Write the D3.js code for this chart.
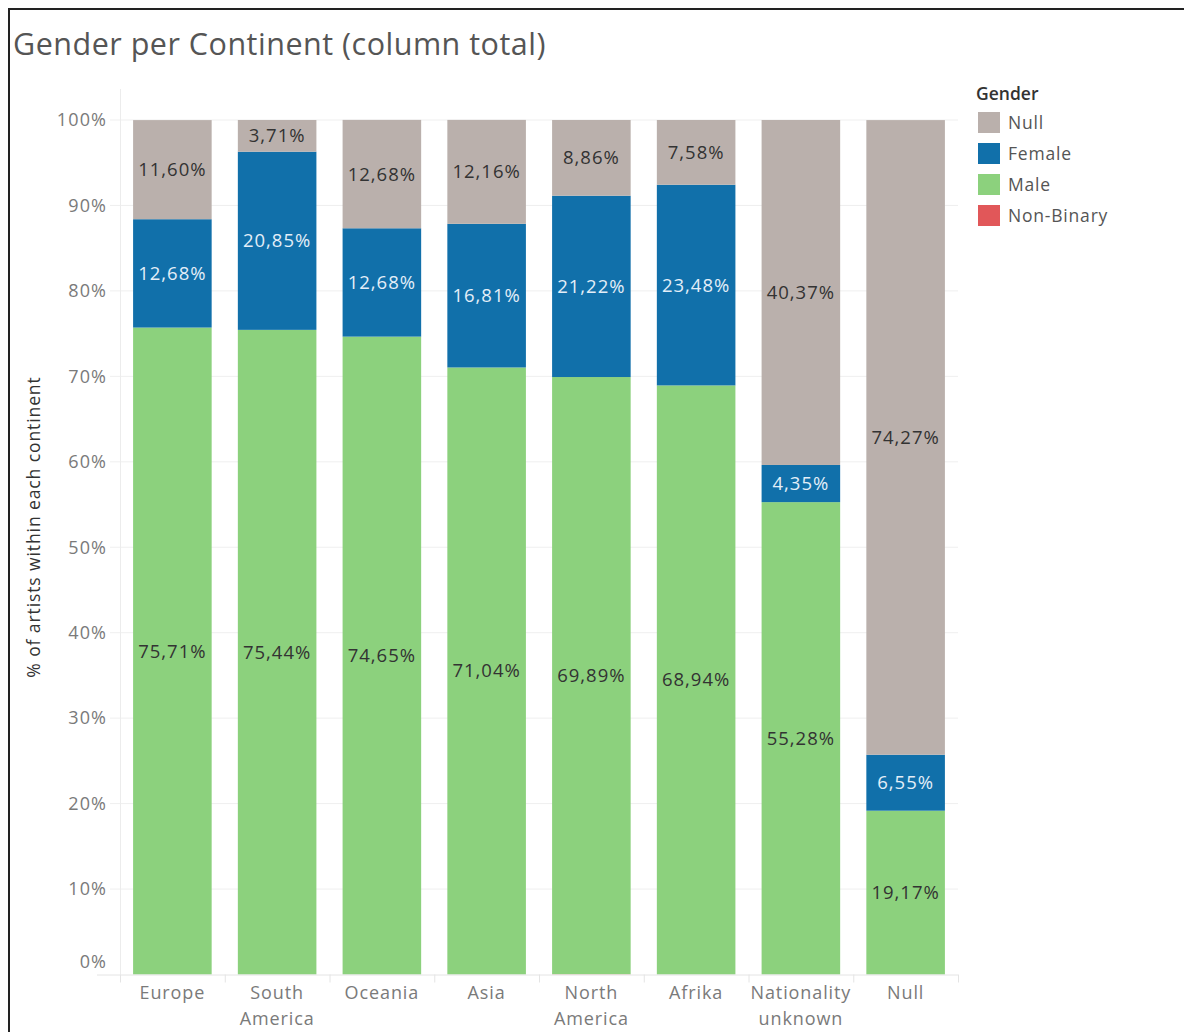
<!DOCTYPE html>
<html>
<head>
<meta charset="utf-8">
<script src="https://cdn.jsdelivr.net/npm/d3@7"></script>
<style>
  html, body { margin: 0; padding: 0; background: #fff; }
  svg { display: block; }
  text { font-family: "Open Sans", "Noto Sans", sans-serif; }
</style>
</head>
<body>
<svg id="chart" width="1184" height="1032"></svg>
<script>
// Continents along the x axis (two-line labels split on "\n")
const continents = ["Europe", "South\nAmerica", "Oceania", "Asia", "North\nAmerica", "Afrika", "Nationality\nunknown", "Null"];

// Share of artists per gender within each continent (%)
const maleValues      = [75.71, 75.44, 74.65, 71.04, 69.89, 68.94, 55.28, 19.17];
const femaleValues    = [12.68, 20.85, 12.68, 16.81, 21.22, 23.48,  4.35,  6.55];
const nullValues      = [11.60,  3.71, 12.68, 12.16,  8.86,  7.58, 40.37, 74.27];
const nonBinaryValues = [ 0.00,  0.00,  0.00,  0.00,  0.03,  0.00,  0.00,  0.00];

// Legend entries and y-axis tick values
const genders = ["Null", "Female", "Male", "Non-Binary"];
const yTicks = [0, 10, 20, 30, 40, 50, 60, 70, 80, 90, 100];

const colors = { "Null": "#bab0ac", "Female": "#1170aa", "Male": "#8cd17d", "Non-Binary": "#e15759" };
const labelColors = { "Null": "#333333", "Female": "#e3eef8", "Male": "#333333", "Non-Binary": "#333333" };

const rows = continents.map((c, i) => ({
  continent: c,
  "Non-Binary": nonBinaryValues[i],
  "Male": maleValues[i],
  "Female": femaleValues[i],
  "Null": nullValues[i]
}));

// Stack from the bottom: Non-Binary, Male, Female, Null on top
const stackKeys = ["Non-Binary", "Male", "Female", "Null"];
const series = d3.stack().keys(stackKeys)(rows);

const svg = d3.select("#chart");

// Frame lines (left and top)
svg.append("line").attr("x1", 9).attr("x2", 9).attr("y1", 9).attr("y2", 1032)
  .attr("stroke", "#222").attr("stroke-width", 2);
svg.append("line").attr("x1", 8).attr("x2", 1184).attr("y1", 9).attr("y2", 9)
  .attr("stroke", "#222").attr("stroke-width", 2);

// Title
svg.append("text")
  .attr("x", 13).attr("y", 55)
  .attr("font-size", 30.5)
  .attr("letter-spacing", 0.5)
  .attr("fill", "#555")
  .text("Gender per Continent (column total)");

const plot = { left: 120, right: 958, top: 120, bottom: 974.5 };

const x = d3.scaleBand()
  .domain(continents)
  .range([plot.left, plot.right])
  .paddingInner(0.25)
  .paddingOuter(0.125);

const y = d3.scaleLinear().domain([0, 100]).range([plot.bottom, plot.top]);

// Horizontal gridlines
svg.append("g").selectAll("line").data(yTicks.filter(t => t > 0)).join("line")
  .attr("x1", 110).attr("x2", plot.right)
  .attr("y1", d => y(d)).attr("y2", d => y(d))
  .attr("stroke", "#efefef").attr("stroke-width", 1);

// Vertical axis rule
svg.append("line")
  .attr("x1", plot.left + 0.5).attr("x2", plot.left + 0.5)
  .attr("y1", 89).attr("y2", plot.bottom)
  .attr("stroke", "#ececec");

// Y tick labels
svg.append("g").selectAll("text").data(yTicks).join("text")
  .attr("x", 107)
  .attr("y", d => d === 0 ? y(d) - 13 : y(d))
  .attr("dy", "0.35em")
  .attr("text-anchor", "end")
  .attr("font-size", 18)
  .attr("letter-spacing", 1.1)
  .attr("fill", "#7a7a7a")
  .text(d => d + "%");

// Y axis title
svg.append("text")
  .attr("transform", "translate(40, 527) rotate(-90)")
  .attr("text-anchor", "middle")
  .attr("font-size", 17.5)
  .attr("letter-spacing", 0.9)
  .attr("fill", "#333")
  .text("% of artists within each continent");

// Bars
const layer = svg.append("g").selectAll("g").data(series).join("g")
  .attr("fill", d => colors[d.key]);

layer.selectAll("rect").data(d => d).join("rect")
  .attr("x", d => x(d.data.continent))
  .attr("width", x.bandwidth())
  .attr("y", d => y(d[1]))
  .attr("height", d => y(d[0]) - y(d[1]));

// Segment value labels (comma decimal separator)
const fmt = v => d3.format(".2f")(v).replace(".", ",") + "%";
series.forEach(s => {
  if (s.key === "Non-Binary") return;
  svg.append("g").selectAll("text").data(s).join("text")
    .attr("x", d => x(d.data.continent) + x.bandwidth() / 2)
    .attr("y", d => y((d[0] + d[1]) / 2))
    .attr("dy", "0.35em")
    .attr("text-anchor", "middle")
    .attr("font-size", 18.5)
    .attr("letter-spacing", 1)
    .attr("fill", labelColors[s.key])
    .text(d => fmt(d[1] - d[0]));
});

// Bottom axis rule and category separators
svg.append("line")
  .attr("x1", 97).attr("x2", plot.right)
  .attr("y1", plot.bottom + 0.5).attr("y2", plot.bottom + 0.5)
  .attr("stroke", "#e4e4e4");
const step = x.step();
svg.append("g").selectAll("line").data(d3.range(continents.length + 1)).join("line")
  .attr("x1", i => plot.left + i * step + 0.5).attr("x2", i => plot.left + i * step + 0.5)
  .attr("y1", plot.bottom).attr("y2", plot.bottom + 8)
  .attr("stroke", "#e4e4e4");

// X category labels
const xl = svg.append("g").selectAll("text").data(continents).join("text")
  .attr("x", d => x(d) + x.bandwidth() / 2)
  .attr("y", 999)
  .attr("text-anchor", "middle")
  .attr("font-size", 18)
  .attr("letter-spacing", 0.9)
  .attr("fill", "#7a7a7a");
xl.each(function(d) {
  const lines = d.split("\n");
  d3.select(this).selectAll("tspan").data(lines).join("tspan")
    .attr("x", x(d) + x.bandwidth() / 2)
    .attr("dy", (l, i) => i === 0 ? 0 : 26)
    .text(l => l);
});

// Legend
const legend = svg.append("g").attr("transform", "translate(976, 0)");
legend.append("text")
  .attr("x", 0).attr("y", 100)
  .attr("font-size", 17.5).attr("font-weight", 600)
  .attr("fill", "#333")
  .text("Gender");
const item = legend.selectAll("g.item").data(genders).join("g")
  .attr("class", "item")
  .attr("transform", (d, i) => `translate(0, ${112 + i * 31})`);
item.append("rect")
  .attr("x", 2).attr("y", 0).attr("width", 22).attr("height", 21)
  .attr("fill", d => colors[d]);
item.append("text")
  .attr("x", 32).attr("y", 10.5).attr("dy", "0.35em")
  .attr("font-size", 17.5).attr("letter-spacing", 0.8).attr("fill", "#555")
  .text(d => d);
</script>
</body>
</html>
